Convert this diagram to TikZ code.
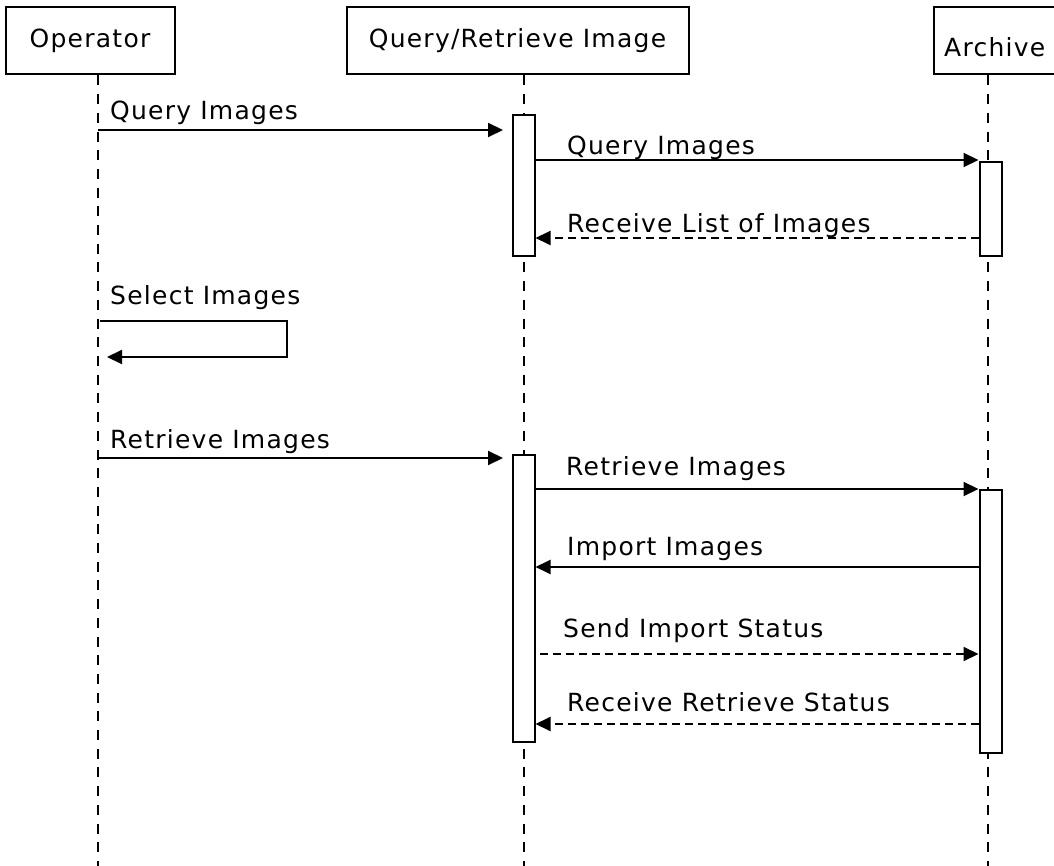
\documentclass[tikz,border=0pt]{standalone}
\usepackage{fontspec}
\setmainfont{DejaVu Sans}[LetterSpace=5]
\usetikzlibrary{arrows.meta}
\begin{document}
\begin{tikzpicture}[x=1pt,y=-1pt,
  txt/.style={font=\fontsize{25}{29}\selectfont},
  lbl/.style={txt, anchor=base west, inner sep=0pt},
  head/.style={txt, draw, line width=2pt, inner sep=0pt, minimum height=67pt},
  act/.style={draw, fill=white, line width=2pt, minimum width=22pt, anchor=north, inner sep=0pt},
  life/.style={line width=2pt, dash pattern=on 10pt off 8.7pt},
  msg/.style={line width=2pt, -{Triangle[length=15pt,width=14pt]}},
  reply/.style={msg, dash pattern=on 8pt off 5pt}]
\useasboundingbox (0,0) rectangle (1054,866);
\clip (0,0) rectangle (1054,866);
\fill[white] (0,0) rectangle (1054,866);
% heads
\node[head, minimum width=169pt] (op) at (90,41) {Operator};
\node[head, minimum width=342pt] (qr) at (517.5,41) {Query/Retrieve Image};
\node[head, minimum width=140pt] (ar) at (1004,41) {};
\node[lbl] (art) at (944,57) {Archive};
% lifelines
\coordinate (opend) at (98,870);
\coordinate (qrend) at (524,870);
\coordinate (arend) at (988,870);
\draw[life] (op.south -| opend) -- (opend);
\draw[life] (qr.south -| qrend) -- (qrend);
\draw[life] (ar.south -| arend) -- (arend);
% activations
\node[act, minimum height=141pt] (qa1) at (523.5,114) {};
\node[act, minimum height=94pt] (aa1) at (990.5,161) {};
\node[act, minimum height=287pt] (qa2) at (523.5,454) {};
\node[act, minimum height=263pt] (aa2) at (990.5,489) {};
% message 1
\coordinate (m1s) at (98,130); \coordinate (m1e) at (503,130);
\draw[msg] (m1s) -- (m1e);
\node[lbl] (l1) at (110,120) {Query Images};
% message 2
\coordinate (m2) at (0,160);
\draw[msg] (qa1.east |- m2) -- (aa1.west |- m2);
\node[lbl] (l2) at (567,155) {Query Images};
% message 3
\coordinate (m3) at (0,238);
\draw[reply] (aa1.west |- m3) -- (qa1.east |- m3);
\node[lbl] (l3) at (567,233) {Receive List of Images};
% message 4 (self)
\coordinate (s1) at (100,321); \coordinate (s2) at (287,321);
\coordinate (s3) at (287,357); \coordinate (s4) at (107,357);
\draw[msg] (s1) -- (s2) -- (s3) -- (s4);
\node[lbl] (l4) at (110,305) {Select Images};
% message 5
\coordinate (m5s) at (98,458); \coordinate (m5e) at (503,458);
\draw[msg] (m5s) -- (m5e);
\node[lbl] (l5) at (110,448) {Retrieve Images};
% message 6
\coordinate (m6) at (0,489);
\draw[msg] (qa2.east |- m6) -- (aa2.west |- m6);
\node[lbl] (l6) at (566,475) {Retrieve Images};
% message 7
\coordinate (m7) at (0,567);
\draw[msg] (aa2.west |- m7) -- (qa2.east |- m7);
\node[lbl] (l7) at (567,555) {Import Images};
% message 8
\coordinate (m8s) at (540,654);
\draw[reply] (m8s) -- (aa2.west |- m8s);
\node[lbl] (l8) at (563,637) {Send Import Status};
% message 9
\coordinate (m9) at (0,724);
\draw[reply] (aa2.west |- m9) -- (qa2.east |- m9);
\node[lbl] (l9) at (567,711) {Receive Retrieve Status};
\end{tikzpicture}
\end{document}
